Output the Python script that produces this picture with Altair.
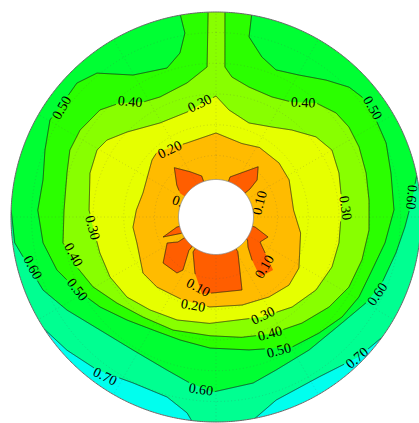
import math

import altair as alt
import pandas as pd

# Polar frame: centre and radius (px) of the unit circle, inner hole radius
CENTER_X, CENTER_Y, UNIT_RADIUS = 216, 217, 205
HOLE_RADIUS = 0.183

band_names = ["<0.1", "0.1-0.2", "0.2-0.3", "0.3-0.4", "0.4-0.5", "0.5-0.6", "0.6-0.7", ">0.7"]
band_colors = ["#FF5E00", "#FFBB00", "#E6FF00", "#88FF00", "#2BFF00", "#00FF33", "#00FF91", "#00FFEE"]

# Contour lines as (angle in degrees clockwise from north, normalised radius)
contour_020 = [
    (0, 0.41), (19.4, 0.38), (32, 0.40), (49.4, 0.405), (63.1, 0.40), (85, 0.38), (100.7, 0.42),
    (121.6, 0.475), (133, 0.487), (146.5, 0.468), (163.5, 0.448), (184, 0.44), (201.7, 0.436),
    (220.1, 0.447), (232.5, 0.449), (251.8, 0.406), (263, 0.408), (275, 0.39), (288.2, 0.375),
    (311.7, 0.418), (317.8, 0.428), (338.6, 0.388),
]
contour_030 = [
    (0, 0.59), (6.9, 0.526), (19.3, 0.486), (31.9, 0.517), (41.1, 0.563), (51.3, 0.625), (60, 0.653),
    (70.3, 0.637), (84, 0.618), (101.9, 0.613), (113.3, 0.616), (126.1, 0.604), (139.8, 0.575),
    (155.3, 0.537), (183.5, 0.52), (200.7, 0.537), (215.4, 0.556), (228, 0.584), (240.5, 0.594),
    (252.8, 0.593), (265.4, 0.602), (273.1, 0.62), (289.2, 0.651), (299.4, 0.666), (305.2, 0.651),
    (313.7, 0.600), (329.2, 0.534), (344.6, 0.531), (357, 0.575),
]
# these leave the disk: first and last points lie on the rim
contour_040 = [
    (2.5, 1.0), (3.4, 0.733), (6.5, 0.687), (14.2, 0.654), (25, 0.646), (33.5, 0.672), (41.3, 0.740),
    (49.1, 0.775), (55.9, 0.783), (63.9, 0.777), (73.7, 0.763), (83.7, 0.751), (94.9, 0.749),
    (106.4, 0.742), (117.8, 0.733), (128.5, 0.705), (141, 0.666), (155.2, 0.629), (168, 0.60),
    (182.9, 0.58), (200.8, 0.590), (216.1, 0.604), (229, 0.640), (240.4, 0.690), (250.2, 0.721),
    (260.4, 0.757), (272.6, 0.742), (286.5, 0.758), (294.6, 0.784), (302.6, 0.787), (312.7, 0.770),
    (319.9, 0.727), (327.6, 0.664), (335, 0.646), (347.8, 0.669), (356.6, 0.733), (357.8, 1.0),
]
contour_050 = [
    (10, 1.0), (10.4, 0.893), (16, 0.812), (22.2, 0.775), (30.3, 0.802), (38.8, 0.857), (45.7, 0.907),
    (50.6, 0.922), (58.8, 0.913), (66.5, 0.905), (75.9, 0.880), (87.7, 0.869), (98.7, 0.834),
    (108.8, 0.804), (119.2, 0.799), (128.4, 0.785), (138.4, 0.757), (149.7, 0.735), (166.1, 0.668),
    (182.6, 0.64), (196.3, 0.625), (209.1, 0.631), (220.8, 0.664), (232.2, 0.716), (242.3, 0.766),
    (251.6, 0.818), (261.5, 0.853), (272.2, 0.87), (282.1, 0.863), (291.4, 0.896), (300.3, 0.938),
    (308.8, 0.933), (313.9, 0.942), (320.4, 0.911), (329.7, 0.802), (341.8, 0.765), (347.6, 0.819),
    (350.4, 0.910), (350, 1.0),
]
contour_060 = [
    (78.3, 1.0), (85, 0.960), (93, 0.923), (101.3, 0.895), (111.7, 0.871), (119.8, 0.843),
    (130.1, 0.803), (145, 0.792), (158.6, 0.802), (167.4, 0.830), (181, 0.854), (188.9, 0.820),
    (197.8, 0.784), (212, 0.765), (225.7, 0.790), (238, 0.857), (247.1, 0.916), (255.3, 0.945),
    (262.7, 0.99), (272, 1.0),
]
contour_070 = [
    (125.9, 1.0), (134.4, 0.975), (147.2, 0.928), (161.8, 0.94), (170.9, 1.02), (178, 1.06),
    (186.4, 1.01), (188.4, 0.966), (195.2, 0.91), (206.6, 0.905), (217.9, 0.945), (228.2, 0.975),
    (236.8, 1.0),
]
# the 0.10 level only shows as patches attached to the inner hole
patches_010 = [
    [(19.3, 0.207), (40, 0.32), (48, 0.27), (50.5, 0.215)],
    [(104.4, 0.197), (111, 0.272), (119.6, 0.247), (132.9, 0.38), (143.7, 0.363), (140, 0.273),
     (133.2, 0.214), (126, 0.19)],
    [(147.8, 0.20), (156.4, 0.293), (160.4, 0.378), (190.3, 0.382), (200.6, 0.292), (213.3, 0.204)],
    [(219, 0.21), (211.9, 0.305), (214.9, 0.333), (229, 0.342), (242, 0.27), (236.7, 0.222)],
    [(245, 0.19), (249.3, 0.276), (255.6, 0.197)],
    [(303.4, 0.21), (309.2, 0.247), (319.8, 0.315), (330.1, 0.255), (340.8, 0.212)],
]

# Inline contour labels
label_text = ["0.50", "0.40", "0.30", "0.20", "0.40", "0.50", "0.60", "0.30", "0.10", "0.10",
              "0.10", "0.20", "0.30", "0.40", "0.50", "0.60", "0.70", "0.60", "0.70", "0.60",
              "0.50", "0.40", "0.30", "0.10"]
label_theta = [305.3, 323.2, 351.9, 325.5, 37.4, 55.1, 84.2, 86, 72.3, 135.6,
               194.2, 194.5, 154.6, 155.2, 154.8, 115.6, 135, 185, 214.8, 254.6,
               242.3, 255.1, 265, 292.1]
label_r = [0.92, 0.70, 0.557, 0.396, 0.70, 0.928, 0.957, 0.631, 0.225, 0.341,
           0.357, 0.448, 0.535, 0.629, 0.722, 0.875, 0.975, 0.847, 0.950, 0.930,
           0.766, 0.722, 0.607, 0.168]
label_rot = [300, 5, 335, 335, 2, 60, 95, 82, 285, 300,
             28, 10, 335, 345, 345, 305, 320, 8, 27, 62,
             52, 62, 75, 20]

grid_radii = [0.3, 0.45, 0.6, 0.75, 0.9]
grid_angles = list(range(0, 360, 30))

LABEL_GAP = 0.068  # half-length of the break left in a line under its label


def to_xy(theta, r):
    a = math.radians(theta)
    return [round(r * math.sin(a), 5), round(r * math.cos(a), 5)]


def closed_ring(points):
    coords = [to_xy(t, r) for t, r in points]
    return coords + [coords[0]]


def circle(r, n=360):
    return [(360.0 * i / n, r) for i in range(n)]


def around_outside(a0, a1, r=1.3, step=20):
    n = max(1, math.ceil((a1 - a0) / step))
    return [(a0 + (a1 - a0) * i / n, r) for i in range(n + 1)]


def open_contour(points):
    # close a contour that leaves the disk by running round outside the rim
    a_start, a_end = points[0][0], points[-1][0]
    if a_start <= a_end:
        a_start += 360
    return points + around_outside(a_end, a_start)


def patch_outline(patches, r_in=0.12):
    pts = []
    for p in patches:
        pts.append((p[0][0], r_in))
        pts.extend(p)
        pts.append((p[-1][0], r_in))
    return pts


def feature(kind, coords, **props):
    return {"type": "Feature", "properties": props,
            "geometry": {"type": kind, "coordinates": coords}}


def broken_line(points, level, closed=False):
    # split a contour polyline where its labels sit
    centres = [to_xy(t, r) for s, t, r in zip(label_text, label_theta, label_r)
               if abs(float(s) - level) < 1e-9]
    xy = [to_xy(t, r) for t, r in points]
    if closed:
        xy = xy + [xy[0]]
    dense = []
    for (x0, y0), (x1, y1) in zip(xy[:-1], xy[1:]):
        n = max(1, math.ceil(math.hypot(x1 - x0, y1 - y0) / 0.003))
        dense += [[x0 + (x1 - x0) * k / n, y0 + (y1 - y0) * k / n] for k in range(n)]
    dense.append(xy[-1])
    runs, run = [], []
    for p in dense:
        hidden = any(math.hypot(p[0] - c[0], p[1] - c[1]) < LABEL_GAP for c in centres)
        if hidden:
            if len(run) > 1:
                runs.append(run)
            run = []
        else:
            run.append([round(p[0], 5), round(p[1], 5)])
    if len(run) > 1:
        runs.append(run)
    return runs


fill_features = [
    feature("Polygon", [closed_ring(circle(1.0))], band=">0.7"),
    feature("Polygon", [closed_ring(open_contour(contour_070))], band="0.6-0.7"),
    feature("Polygon", [closed_ring(open_contour(contour_060))], band="0.5-0.6"),
    feature("Polygon", [closed_ring(open_contour(contour_050))], band="0.4-0.5"),
    feature("Polygon", [closed_ring(open_contour(contour_040))], band="0.3-0.4"),
    feature("Polygon", [closed_ring(contour_030)], band="0.2-0.3"),
    feature("Polygon", [closed_ring(contour_020)], band="0.1-0.2"),
    feature("Polygon", [closed_ring(patch_outline(patches_010))], band="<0.1"),
]

line_runs = []
line_runs += broken_line(contour_070, 0.7)
line_runs += broken_line(contour_060, 0.6)
line_runs += broken_line(contour_050, 0.5)
line_runs += broken_line(contour_040, 0.4)
line_runs += broken_line(contour_030, 0.3, closed=True)
line_runs += broken_line(contour_020, 0.2, closed=True)
for p in patches_010:
    line_runs += broken_line([(p[0][0], 0.12)] + p + [(p[-1][0], 0.12)], 0.1)
line_features = [feature("MultiLineString", line_runs)]

grid_features = [feature("LineString", closed_ring(circle(r, 180))) for r in grid_radii]
grid_features += [feature("LineString", [to_xy(a, HOLE_RADIUS), to_xy(a, 1.0)]) for a in grid_angles]

hole_features = [feature("Polygon", [closed_ring(circle(HOLE_RADIUS))])]
mask_features = [feature("Polygon", [
    [[-3, -3], [3, -3], [3, 3], [-3, 3], [-3, -3]],
    closed_ring(circle(1.0, 720)),
])]
rim_features = [feature("LineString", closed_ring(circle(1.0, 720)))]

PROJECTION = dict(type="identity", reflectY=True, scale=UNIT_RADIUS, translate=[CENTER_X, CENTER_Y])

fills = alt.Chart(alt.Data(values=fill_features)).mark_geoshape(
    strokeOpacity=0
).encode(
    color=alt.Color("properties.band:N",
                    scale=alt.Scale(domain=band_names, range=band_colors), legend=None)
).project(**PROJECTION)

grid = alt.Chart(alt.Data(values=grid_features)).mark_geoshape(
    filled=False, stroke="#555555", strokeWidth=0.6, strokeDash=[1, 2.5], opacity=0.35
).project(**PROJECTION)

lines = alt.Chart(alt.Data(values=line_features)).mark_geoshape(
    filled=False, stroke="#151515", strokeWidth=0.7
).project(**PROJECTION)

label_table = pd.DataFrame({"text": label_text, "theta": label_theta,
                            "r": label_r, "rot": label_rot})
labels = alt.Chart(label_table).transform_calculate(
    lon="datum.r * sin(datum.theta * PI / 180)",
    lat="datum.r * cos(datum.theta * PI / 180)",
).mark_text(font="Liberation Serif", fontSize=14, color="#000000").encode(
    longitude="lon:Q",
    latitude="lat:Q",
    text="text:N",
    angle=alt.Angle("rot:Q", scale=None),
).project(**PROJECTION)

hole = alt.Chart(alt.Data(values=hole_features)).mark_geoshape(
    fill="white", stroke="#888888", strokeWidth=0.8
).project(**PROJECTION)

mask = alt.Chart(alt.Data(values=mask_features)).mark_geoshape(
    fill="white", strokeOpacity=0
).project(**PROJECTION)

rim = alt.Chart(alt.Data(values=rim_features)).mark_geoshape(
    filled=False, stroke="#666666", strokeWidth=1.0
).project(**PROJECTION)

chart = alt.layer(fills, grid, lines, labels, hole, mask, rim).properties(
    width=419, height=423, padding=0, autosize="none"
).configure_view(strokeWidth=0)

chart.save("out.html", embed_options={"renderer": "svg", "actions": False})
